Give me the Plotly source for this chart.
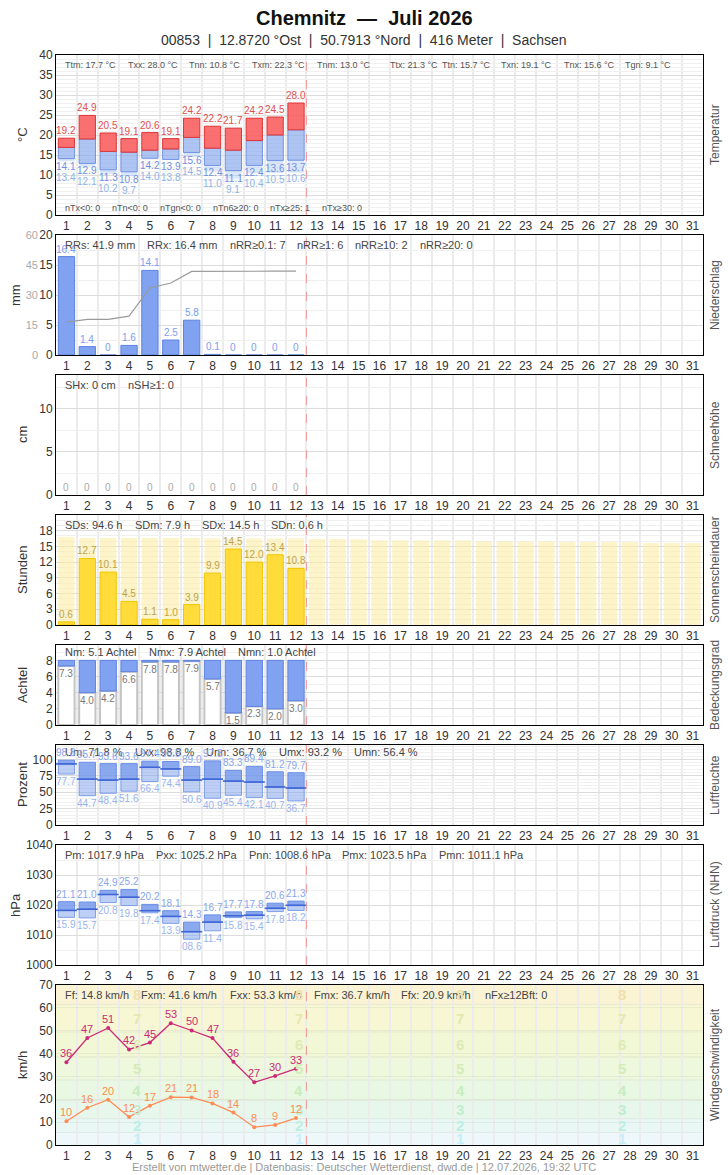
import plotly.graph_objects as go

# ---------------- data ----------------
days_all = list(range(1, 32))
days = list(range(1, 13))

t_max = [19.2, 24.9, 20.5, 19.1, 20.6, 19.1, 24.2, 22.2, 21.7, 24.2, 24.5, 28.0]
t_mean = [16.9, 19.0, 15.9, 15.7, 16.2, 16.5, 19.4, 16.7, 16.2, 18.6, 20.0, 21.3]
t_min = [14.1, 12.9, 11.3, 10.8, 14.2, 13.9, 15.6, 12.4, 11.1, 12.4, 13.6, 13.7]
t_ground = [13.4, 12.1, 10.2, 9.7, 14.0, 13.8, 14.5, 11.0, 9.1, 10.4, 10.5, 10.6]

rr = [16.4, 1.4, 0, 1.6, 14.1, 2.5, 5.8, 0.1, 0, 0, 0, 0]
rr_cum = [16.4, 17.8, 17.8, 19.4, 33.5, 36.0, 41.8, 41.9, 41.9, 41.9, 41.9, 41.9]

snow = [0, 0, 0, 0, 0, 0, 0, 0, 0, 0, 0, 0]

sd = [0.6, 12.7, 10.1, 4.5, 1.1, 1.0, 3.9, 9.9, 14.5, 12.0, 13.4, 10.8]
sd_possible = [16.8, 16.6, 16.6, 16.6, 16.6, 16.6, 16.6, 16.5, 16.5, 16.5, 16.5, 16.5,
               16.4, 16.4, 16.35, 16.15, 16.15, 16.15, 16.15, 16.15, 15.95, 15.95,
               15.95, 15.95, 15.85, 15.85, 15.85, 15.85, 15.65, 15.65, 15.65]

cloud = [7.3, 4.0, 4.2, 6.6, 7.8, 7.8, 7.9, 5.7, 1.5, 2.3, 2.0, 3.0]

u_max = [98.8, 95.7, 93.6, 93.6, 97.4, 96.9, 89.0, 97.8, 83.3, 89.4, 81.2, 79.7]
u_mean = [93.2, 70.0, 68.5, 70.0, 88.0, 85.5, 68.5, 70.0, 67.0, 65.5, 58.0, 56.4]
u_min = [77.7, 44.7, 48.4, 51.6, 66.4, 74.4, 50.6, 40.9, 45.4, 42.1, 40.7, 36.7]

p_max = [1021.1, 1021.0, 1024.9, 1025.2, 1020.2, 1018.1, 1014.3, 1016.7, 1017.7, 1017.8, 1020.6, 1021.3]
p_mean = [1018.2, 1018.6, 1023.5, 1022.6, 1018.1, 1016.2, 1011.1, 1014.3, 1016.4, 1016.6, 1018.9, 1019.9]
p_min = [1015.9, 1015.7, 1020.8, 1019.8, 1017.4, 1013.9, 1008.6, 1011.4, 1015.8, 1015.4, 1017.8, 1018.2]

wind_gust = [36.2, 46.8, 51.2, 41.8, 44.8, 53.3, 50.1, 46.8, 36.4, 27.4, 30.2, 33.4]
wind_mean = [10.4, 16.3, 19.8, 12.3, 17.2, 20.9, 20.8, 18.2, 14.2, 7.8, 8.8, 11.8]

bft_edges = [0, 5.5, 11.5, 19.5, 28.5, 38.5, 49.5, 61.5, 70]
bft_names = ["1", "2", "3", "4", "5", "6", "7", "8"]

stats = {
    1: [(63, 65, "Ttm: 17.7 °C"), (126, 65, "Txx: 28.0 °C"), (187, 65, "Tnn: 10.8 °C"),
        (250, 65, "Txm: 22.3 °C"), (315, 65, "Tnm: 13.0 °C"), (388, 65, "Ttx: 21.3 °C"),
        (440, 65, "Ttn: 15.7 °C"), (499, 65, "Txn: 19.1 °C"), (562, 65, "Tnx: 15.6 °C"),
        (623, 65, "Tgn: 9.1 °C"),
        (63, 208, "nTx<0: 0"), (110, 208, "nTn<0: 0"), (158, 208, "nTgn<0: 0"),
        (211, 208, "nTn6≥20: 0"), (268, 208, "nTx≥25: 1"), (320, 208, "nTx≥30: 0")],
    2: [(63, 245, "RRs: 41.9 mm"), (145, 245, "RRx: 16.4 mm"), (228, 245, "nRR≥0.1: 7"),
        (295, 245, "nRR≥1: 6"), (353, 245, "nRR≥10: 2"), (418, 245, "nRR≥20: 0")],
    3: [(63, 385, "SHx: 0 cm"), (126, 385, "nSH≥1: 0")],
    4: [(63, 525, "SDs: 94.6 h"), (133, 525, "SDm: 7.9 h"), (200, 525, "SDx: 14.5 h"),
        (269, 525, "SDn: 0.6 h")],
    5: [(63, 652, "Nm: 5.1 Achtel"), (147, 652, "Nmx: 7.9 Achtel"), (236, 652, "Nmn: 1.0 Achtel")],
    6: [(63, 752, "Um: 71.8 %"), (133, 752, "Uxx: 98.8 %"), (204, 752, "Unn: 36.7 %"),
        (277, 752, "Umx: 93.2 %"), (352, 752, "Umn: 56.4 %")],
    7: [(63, 855, "Pm: 1017.9 hPa"), (154, 855, "Pxx: 1025.2 hPa"), (247, 855, "Pnn: 1008.6 hPa"),
        (340, 855, "Pmx: 1023.5 hPa"), (437, 855, "Pmn: 1011.1 hPa")],
    8: [(63, 995, "Ff: 14.8 km/h"), (139, 995, "Fxm: 41.6 km/h"), (228, 995, "Fxx: 53.3 km/h"),
        (312, 995, "Fmx: 36.7 km/h"), (399, 995, "Ffx: 20.9 km/h"), (483, 995, "nFx≥12Bft: 0")],
}

left_titles = ["°C", "mm", "cm", "Stunden", "Achtel", "Prozent", "hPa", "km/h"]
right_titles = ["Temperatur", "Niederschlag", "Schneehöhe", "Sonnenscheindauer",
                "Bedeckungsgrad", "Luftfeuchte", "Luftdruck (NHN)", "Windgeschwindigkeit"]

# ---------------- layout geometry ----------------
W, H = 728, 1175
ML, MR, MT, MB = 56, 25, 55, 30
PW = W - ML - MR
PH = H - MT - MB
panels = [(55, 215), (235, 355), (375, 495), (515, 625), (645, 725), (745, 825), (845, 965), (985, 1145)]
left_title_x = [22, 15, 22, 22, 22, 22, 15, 22]

yranges = [[0, 40], [0, 20], [0, 13.9], [0, 21], [0, 9.9], [0, 122], [1000, 1040], [0, 70]]
ytickvals = [list(range(0, 41, 5)), [0, 5, 10, 15, 20], [0, 5, 10], list(range(0, 19, 3)),
             [0, 2, 4, 6, 8], [0, 25, 50, 75, 100], [1000, 1010, 1020, 1030, 1040],
             list(range(0, 71, 10))]
yminor = [1, 2.5, 2.5, 1, 1, 5, 5, None]

FONT = "Liberation Sans, Arial, sans-serif"


def ax(i, k):
    return k if i == 1 else f"{k}{i}"


def dom(top, bot):
    return [(H - MB - bot) / PH, (H - MB - top) / PH]


def px_x(px):
    return (px - ML) / PW


def px_y(py):
    return (H - MB - py) / PH


fig = go.Figure()
ann = []
shapes = []

layout = dict(width=W, height=H, margin=dict(l=ML, r=MR, t=MT, b=MB), barmode="overlay",
              showlegend=False, plot_bgcolor="white", paper_bgcolor="white", template="none",
              font=dict(family=FONT, size=12, color="#333"))

for i, (top, bot) in enumerate(panels, start=1):
    xa = "xaxis" if i == 1 else f"xaxis{i}"
    ya = "yaxis" if i == 1 else f"yaxis{i}"
    layout[xa] = dict(domain=[0, 1], anchor=ax(i, "y"), range=[0.5, 31.5], tickmode="array",
                      tickvals=days_all, ticktext=[str(d) for d in days_all], showgrid=False,
                      showline=True, linecolor="#000", linewidth=1, mirror=True, ticks="",
                      zeroline=False, tickfont=dict(size=12, color="#333"), automargin=False,
                      minor=dict(tickmode="array", tickvals=[d - 0.5 for d in days_all] + [31.5],
                                 showgrid=True, gridcolor="#ececec", gridwidth=2, ticks=""))
    yd = dict(domain=dom(top, bot), anchor=ax(i, "x"), range=yranges[i - 1], tickmode="array",
              tickvals=ytickvals[i - 1], showgrid=True, gridcolor="#dcdcdc", gridwidth=1,
              showline=True, linecolor="#000", linewidth=1, mirror=True, ticks="",
              zeroline=False, tickfont=dict(size=12, color="#333"), automargin=False)
    if yminor[i - 1]:
        yd["minor"] = dict(dtick=yminor[i - 1], showgrid=True, gridcolor="#f0f0f0", gridwidth=1, ticks="")
    if i == 8:
        yd["gridcolor"] = "rgba(0,0,0,0.05)"
    layout[ya] = yd
    # red dashed "today" line
    shapes.append(dict(type="line", xref=ax(i, "x"), yref=f"{ax(i, 'y')} domain", x0=12.5, x1=12.5,
                       y0=0, y1=1, line=dict(color="#f29a9a", width=1, dash="dash"), layer="above"))
    # titles
    ann.append(dict(xref="paper", yref="paper", x=px_x(left_title_x[i - 1]),
                    y=px_y((top + bot) / 2), text=left_titles[i - 1], textangle=-90,
                    xanchor="center", yanchor="middle",
                    showarrow=False, font=dict(size=13, color="#333")))
    ann.append(dict(xref="paper", yref="paper", x=px_x(715),
                    y=px_y((top + bot) / 2), text=right_titles[i - 1], textangle=-90,
                    xanchor="center", yanchor="middle",
                    showarrow=False, font=dict(size=12, color="#555")))
    for px, py, txt in stats[i]:
        ann.append(dict(xref=f"{ax(i, 'x')} domain", yref=f"{ax(i, 'y')} domain",
                        x=(px - ML) / PW, y=(bot - py) / (bot - top), text=txt, showarrow=False,
                        xanchor="left", yanchor="middle",
                        font=dict(size=9 if i == 1 else 11, color="#555" if i == 1 else "#444")))

# secondary axis for cumulative precipitation
layout["yaxis9"] = dict(overlaying="y2", anchor="x2", side="left", range=[0, 60],
                        tickmode="array", tickvals=[0, 15, 30, 45, 60], showgrid=False,
                        zeroline=False, showline=False, ticks="", ticklabelstandoff=17,
                        tickfont=dict(size=11, color="#aaa"), automargin=False)


def lab(i, x, y, text, color, anchor, yshift=0, size=10):
    ann.append(dict(xref=ax(i, "x"), yref=ax(i, "y"), x=x, y=y, text=text, showarrow=False,
                    xanchor="center", yanchor=anchor, yshift=yshift, font=dict(size=size, color=color)))


BW = 0.78

# ---- 1 temperature ----
fig.add_trace(go.Bar(x=days, base=t_ground, y=[n - g for n, g in zip(t_min, t_ground)], width=BW,
                     marker=dict(color="rgba(175,205,245,0.45)", line=dict(width=0)),
                     xaxis="x", yaxis="y"))
fig.add_trace(go.Bar(x=days, base=t_min, y=[m - n for m, n in zip(t_mean, t_min)], width=BW,
                     marker=dict(color="rgba(140,172,240,0.7)", line=dict(color="#7092e2", width=1)),
                     xaxis="x", yaxis="y"))
fig.add_trace(go.Bar(x=days, base=t_mean, y=[x - m for x, m in zip(t_max, t_mean)], width=BW,
                     marker=dict(color="rgba(250,95,95,0.9)", line=dict(color="#dc3636", width=1)),
                     xaxis="x", yaxis="y"))
for d, tx, tn, tg in zip(days, t_max, t_min, t_ground):
    lab(1, d, tx, f"{tx:.1f}", "#e05050", "bottom")
    lab(1, d, tn, f"{tn:.1f}", "#6f8fe0", "top")
    lab(1, d, tn, f"{tg:.1f}", "#8fb4e6", "top", yshift=-11)

# ---- 2 precipitation ----
fig.add_trace(go.Bar(x=days, y=rr, width=BW,
                     marker=dict(color="#80a2f0", line=dict(color="#5d82e2", width=1)),
                     xaxis="x2", yaxis="y2"))
fig.add_trace(go.Scatter(x=days, y=rr_cum, mode="lines", line=dict(color="#9a9a9a", width=1.2),
                         xaxis="x2", yaxis="y9"))
for d, v in zip(days, rr):
    lab(2, d, v, f"{v:g}", "#7b9ef0", "bottom")

# ---- 3 snow ----
fig.add_trace(go.Bar(x=days, y=snow, width=BW, marker=dict(color="#c8d8f8"), xaxis="x3", yaxis="y3"))
for d, v in zip(days, snow):
    lab(3, d, v, f"{v:g}", "#aaaaaa", "bottom")

# ---- 4 sunshine ----
fig.add_trace(go.Bar(x=days_all, y=sd_possible, width=BW,
                     marker=dict(color="rgba(253,236,165,0.6)", line=dict(width=0)),
                     xaxis="x4", yaxis="y4"))
fig.add_trace(go.Bar(x=days, y=sd, width=BW,
                     marker=dict(color="#ffdc3a", line=dict(color="#f2c600", width=1)),
                     xaxis="x4", yaxis="y4"))
for d, v in zip(days, sd):
    lab(4, d, v, f"{v:.1f}", "#bda34a", "bottom")

# ---- 5 cloud cover ----
fig.add_trace(go.Bar(x=days, y=cloud, width=BW,
                     marker=dict(color="white", line=dict(color="#c4c4c4", width=2)),
                     xaxis="x5", yaxis="y5"))
fig.add_trace(go.Bar(x=days, base=cloud, y=[8 - c for c in cloud], width=BW,
                     marker=dict(color="#80a2f0", line=dict(color="#5d82e2", width=1)),
                     xaxis="x5", yaxis="y5"))
for d, v in zip(days, cloud):
    lab(5, d, v, f"{v:.1f}", "#777777", "top")

# ---- 6 humidity / 7 pressure (range boxes) ----
def range_boxes(i, lo, mid, hi, fmt):
    fig.add_trace(go.Bar(x=days, base=lo, y=[m - l for m, l in zip(mid, lo)], width=BW,
                         marker=dict(color="rgba(125,160,238,0.5)", line=dict(color="#7c9de8", width=1)),
                         xaxis=ax(i, "x"), yaxis=ax(i, "y")))
    fig.add_trace(go.Bar(x=days, base=mid, y=[h - m for h, m in zip(hi, mid)], width=BW,
                         marker=dict(color="rgba(110,148,235,0.8)", line=dict(color="#6a8ee6", width=1)),
                         xaxis=ax(i, "x"), yaxis=ax(i, "y")))
    fig.add_trace(go.Scatter(x=days, y=mid, mode="markers",
                             marker=dict(symbol="line-ew-open", size=15, color="#3f66d4",
                                         line=dict(color="#3f66d4", width=1.6)),
                             xaxis=ax(i, "x"), yaxis=ax(i, "y")))
    for d, l, h in zip(days, lo, hi):
        lab(i, d, h, fmt(h), "#88a6ec", "bottom")
        lab(i, d, l, fmt(l), "#9ab4ee", "top")


range_boxes(6, u_min, u_mean, u_max, lambda v: f"{v:.1f}")
range_boxes(7, p_min, p_mean, p_max, lambda v: f"{v - 1000:04.1f}")

# ---- 8 wind ----
band_colors = ["#eef8fb", "#e9f8f5", "#e7f7ec", "#e9f8e2", "#eef8dc", "#f2f8d6", "#f7f8d3", "#fbf4d4"]
num_colors = ["#c6eef8", "#bdeee4", "#c0eccf", "#c8ecbf", "#d4ecb7", "#dcebb3", "#e5e8b0", "#efe0ae"]
for k in range(8):
    y0, y1 = bft_edges[k], bft_edges[k + 1]
    shapes.append(dict(type="rect", xref="x8 domain", yref="y8", x0=0, x1=1, y0=y0, y1=y1,
                       fillcolor=band_colors[k], line=dict(width=0), layer="below"))
    if k > 0:
        shapes.append(dict(type="line", xref="x8 domain", yref="y8", x0=0, x1=1, y0=y0, y1=y0,
                           line=dict(color="rgba(0,0,0,0.07)", width=1), layer="below"))
    for fx in [0.125, 0.375, 0.625, 0.875]:
        ann.append(dict(xref="x8 domain", yref="y8", x=fx, y=(y0 + y1) / 2 if y1 < 70 else 65.8,
                        text=f"<b>{bft_names[k]}</b>", showarrow=False,
                        xanchor="center", yanchor="middle",
                        font=dict(size=15, color=num_colors[k])))

fig.add_trace(go.Scatter(x=days, y=wind_gust, mode="lines+markers",
                         line=dict(color="#cc2a78", width=1.3), marker=dict(size=4, color="#cc2a78"),
                         xaxis="x8", yaxis="y8"))
fig.add_trace(go.Scatter(x=days, y=wind_mean, mode="lines+markers",
                         line=dict(color="#ff8c55", width=1.3), marker=dict(size=4, color="#ff8c55"),
                         xaxis="x8", yaxis="y8"))
for d, g, m in zip(days, wind_gust, wind_mean):
    lab(8, d, g, f"{g:.0f}", "#cc2a78", "bottom", yshift=1, size=11)
    lab(8, d, m, f"{m:.0f}", "#ff8c55", "bottom", yshift=1, size=11)

# ---- header / footer ----
NB = "\u00a0"
CX = px_x(364)
ann.append(dict(xref="paper", yref="paper", x=CX, y=px_y(18), xanchor="center", yanchor="middle",
                text=f"<b>Chemnitz{NB}{NB}—{NB}{NB}Juli 2026</b>",
                showarrow=False, font=dict(size=20, color="#111")))
ann.append(dict(xref="paper", yref="paper", x=CX, y=px_y(40), xanchor="center", yanchor="middle",
                text=f"00853{NB}{NB}|{NB}{NB}12.8720 °Ost{NB}{NB}|{NB}{NB}50.7913 °Nord{NB}{NB}|{NB}{NB}416 Meter{NB}{NB}|{NB}{NB}Sachsen",
                showarrow=False, font=dict(size=14, color="#333")))
ann.append(dict(xref="paper", yref="paper", x=CX, y=px_y(1167), xanchor="center", yanchor="middle",
                text="Erstellt von mtwetter.de | Datenbasis: Deutscher Wetterdienst, dwd.de | 12.07.2026, 19:32 UTC",
                showarrow=False, font=dict(size=11, color="#999")))

layout["annotations"] = ann
layout["shapes"] = shapes
fig.update_layout(**layout)
fig.write_html("out.html")
